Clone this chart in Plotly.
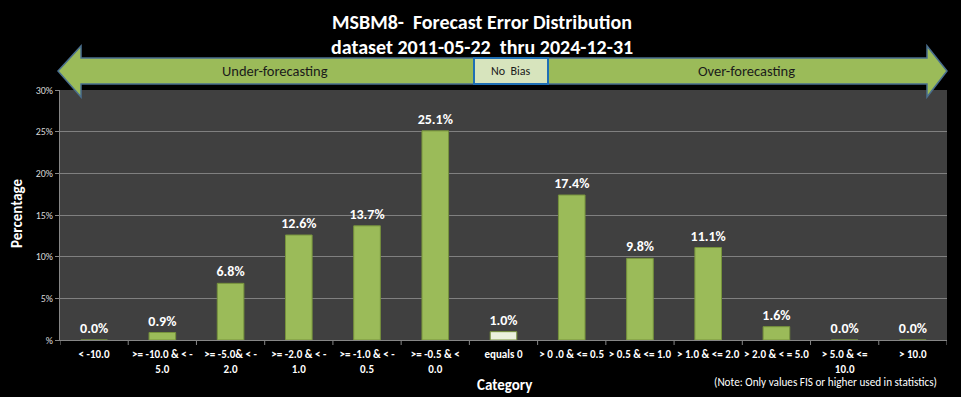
import plotly.graph_objects as go

categories = [
    "< -10.0",
    ">= -10.0 & < -<br>5.0",
    ">= -5.0& < -<br>2.0",
    ">= -2.0 & < -<br>1.0",
    ">= -1.0 & < -<br>0.5",
    ">= -0.5 & <<br>0.0",
    "equals 0",
    "> 0 .0 & <= 0.5",
    "> 0.5 & <= 1.0",
    "> 1.0 & <= 2.0",
    "> 2.0 & < = 5.0",
    "> 5.0 & <=<br>10.0",
    "> 10.0",
]
values = [0.0, 0.9, 6.8, 12.6, 13.7, 25.1, 1.0, 17.4, 9.8, 11.1, 1.6, 0.0, 0.0]
bar_colors = ["#9BBB59"] * 6 + ["#EBF1DE"] + ["#9BBB59"] * 6
ytick_vals = [0, 5, 10, 15, 20, 25, 30]
ytick_text = ["%", "5%", "10%", "15%", "20%", "25%", "30%"]

FONT = "Carlito, 'Liberation Sans Narrow', 'Open Sans', sans-serif"

W, H = 961, 397
L, R, T, B = 60, 14, 90, 57
PW, PH = W - L - R, H - T - B


def px(x):
    return (x - L) / PW


def py(y):
    return (H - B - y) / PH


fig = go.Figure()
fig.add_trace(go.Bar(
    x=list(range(len(categories))),
    y=values,
    width=0.39,
    marker=dict(color=bar_colors, line=dict(color="#76923C", width=1)),
    texttemplate="<b>%{y:.1f}%</b>",
    textposition="outside",
    constraintext="none",
    textfont=dict(color="white", size=14, family=FONT),
    cliponaxis=False,
    hoverinfo="skip",
))


def path(points):
    return "M " + " L ".join(f"{px(a):.5f},{py(b):.5f}" for a, b in points) + " Z"


left_arrow = [(58, 71), (81, 46), (81, 58), (474, 58), (474, 84), (81, 84), (81, 97)]
right_arrow = [(947, 71), (927, 46), (927, 58), (548, 58), (548, 84), (927, 84), (927, 97)]
shapes = []
for pts in (left_arrow, right_arrow):
    shapes.append(dict(type="path", xref="paper", yref="paper", path=path(pts),
                       fillcolor="#9BBB59", line=dict(color="#4A6F8F", width=1.5), layer="above"))
shapes.append(dict(type="rect", xref="paper", yref="paper",
                   x0=px(474), x1=px(548), y0=py(84), y1=py(58),
                   fillcolor="#D7E4BD", line=dict(color="#1F6FB5", width=2), layer="above"))

annotations = [
    dict(text="<b>MSBM8-  Forecast Error Distribution</b>", x=px(482), y=py(22), xref="paper", yref="paper",
         showarrow=False, font=dict(size=20, color="white", family=FONT), xanchor="center", yanchor="middle"),
    dict(text="<b>dataset 2011-05-22  thru 2024-12-31</b>", x=px(482), y=py(47), xref="paper", yref="paper",
         showarrow=False, font=dict(size=20, color="white", family=FONT), xanchor="center", yanchor="middle"),
    dict(text="Under-forecasting", x=px(275), y=py(71), xref="paper", yref="paper", showarrow=False,
         font=dict(size=14.5, color="#1a1a1a", family=FONT), xanchor="center", yanchor="middle"),
    dict(text="Over-forecasting", x=px(746), y=py(71), xref="paper", yref="paper", showarrow=False,
         font=dict(size=14.5, color="#1a1a1a", family=FONT), xanchor="center", yanchor="middle"),
    dict(text="No  Bias", x=px(511), y=py(71), xref="paper", yref="paper", showarrow=False,
         font=dict(size=12, color="#1a1a1a", family=FONT), xanchor="center", yanchor="middle"),
    dict(text="<b>Category</b>", x=px(505), y=py(385), xref="paper", yref="paper", showarrow=False,
         font=dict(size=15, color="white", family=FONT), xanchor="center", yanchor="middle"),
    dict(text="(Note: Only values FIS or higher used in statistics)", x=px(825), y=py(382), xref="paper",
         yref="paper", showarrow=False, font=dict(size=11.2, color="white", family=FONT),
         xanchor="center", yanchor="middle"),
    dict(text="<b>Percentage</b>", x=px(17), y=py(213), xref="paper", yref="paper", showarrow=False,
         textangle=-90, font=dict(size=15, color="white", family=FONT), xanchor="center", yanchor="middle"),
]

fig.update_layout(
    width=W, height=H,
    margin=dict(l=L, r=R, t=T, b=B),
    paper_bgcolor="black",
    plot_bgcolor="#404040",
    showlegend=False,
    shapes=shapes,
    annotations=annotations,
    font=dict(family=FONT, color="white"),
    xaxis=dict(
        tickmode="array",
        tickvals=list(range(len(categories))),
        ticktext=[f"<b>{c}</b>" for c in categories],
        range=[-0.5, len(categories) - 0.5],
        tickfont=dict(size=11, color="white", family=FONT),
        showline=True, linecolor="#868686", linewidth=1,
        ticks="", showgrid=False, zeroline=False,
        tickangle=0, ticklabelstandoff=4,
    ),
    yaxis=dict(
        range=[0, 30],
        tickmode="array", tickvals=ytick_vals, ticktext=ytick_text,
        tickfont=dict(size=10, color="#d9d9d9", family=FONT),
        showline=True, linecolor="#868686", linewidth=1,
        ticks="outside", tickcolor="#868686", ticklen=4,
        showgrid=True, gridcolor="#808080", gridwidth=1,
        zeroline=False,
    ),
)

# category boundary tick marks (drawn at boundaries between categories)
for i in range(len(categories) + 1):
    fig.add_shape(type="line", xref="x", yref="paper", x0=i - 0.5, x1=i - 0.5, y0=0, y1=-5 / PH,
                  line=dict(color="#868686", width=1))

fig.write_html(
    "out.html",
    config={"displayModeBar": False},
    post_script="document.body.style.margin='0';document.body.style.background='black';",
)
